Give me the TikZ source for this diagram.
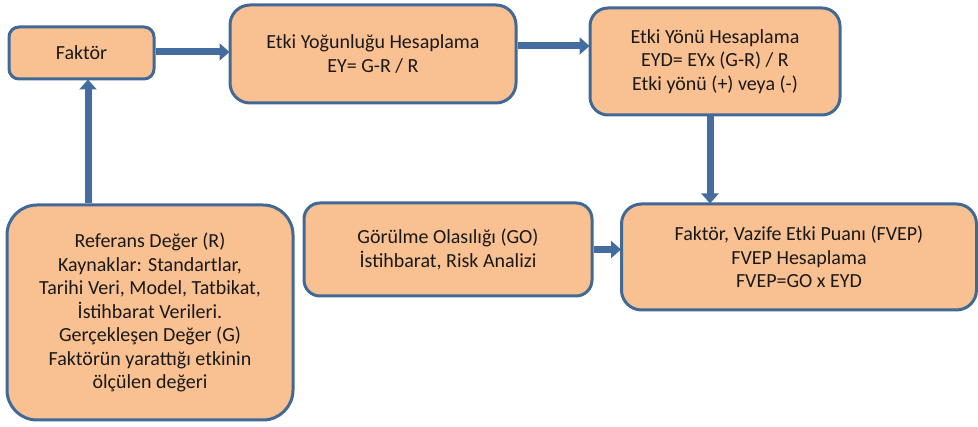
\documentclass[tikz,border=0pt]{standalone}
\usepackage{fontspec}
\setmainfont{Carlito}
\usetikzlibrary{arrows.meta}
\definecolor{boxfill}{RGB}{249,192,145}
\definecolor{boxline}{RGB}{65,105,150}
\definecolor{arrowblue}{RGB}{68,108,158}
\tikzset{
  fbox/.style={draw=boxline, line width=3pt, fill=boxfill, align=center,
    font=\fontsize{20}{23.5}\selectfont, text=black!90, inner sep=0pt},
  flow/.style={draw=arrowblue, line width=7pt,
    -{Triangle[width=17pt,length=10pt]}, shorten >=-1pt}
}
\begin{document}
\begin{tikzpicture}[x=1pt,y=-1pt]
\useasboundingbox (0,0) rectangle (978,427);
\node[fbox, rounded corners=10pt, minimum width=145pt, minimum height=52pt] (fak) at (81.5,53) {Faktör};
\node[fbox, rounded corners=20pt, minimum width=286pt, minimum height=98pt] (ey) at (373,54) {Etki Yoğunluğu Hesaplama\\EY= G-R / R};
\node[fbox, rounded corners=18pt, minimum width=250pt, minimum height=107pt] (eyd) at (715,61.5) {Etki Yönü Hesaplama\\EYD= EYx (G-R) / R\\Etki yönü (+) veya (-)};
\node[fbox, rounded corners=20pt, minimum width=355pt, minimum height=106pt] (fvep) at (799,257) {Faktör, Vazife Etki Puanı (FVEP)\\FVEP Hesaplama\\FVEP=GO x EYD};
\node[fbox, rounded corners=16pt, minimum width=288pt, minimum height=93pt] (go) at (448,249.5) {Görülme Olasılığı (GO)\\İstihbarat, Risk Analizi};
\node[fbox, rounded corners=30pt, minimum width=286pt, minimum height=215pt] (ref) at (150,312.5) {Referans Değer (R)\\Kaynaklar: Standartlar,\\Tarihi Veri, Model, Tatbikat,\\İstihbarat Verileri.\\Gerçekleşen Değer (G)\\Faktörün yarattığı etkinin\\ölçülen değeri};
\draw[flow] ([yshift=1pt]fak.east) -- ([yshift=1pt]fak.east -| ey.west);
\draw[flow] ([yshift=8pt]ey.east) -- ([yshift=8pt]ey.east -| eyd.west);
\draw[flow] ([xshift=-5pt]eyd.south) -- ([xshift=-5pt]eyd.south |- fvep.north);
\draw[flow] (go.east) -- (go.east -| fvep.west);
\draw[flow] ([xshift=-62pt]ref.north) -- ([xshift=-62pt]ref.north |- fak.south);
\end{tikzpicture}
\end{document}
